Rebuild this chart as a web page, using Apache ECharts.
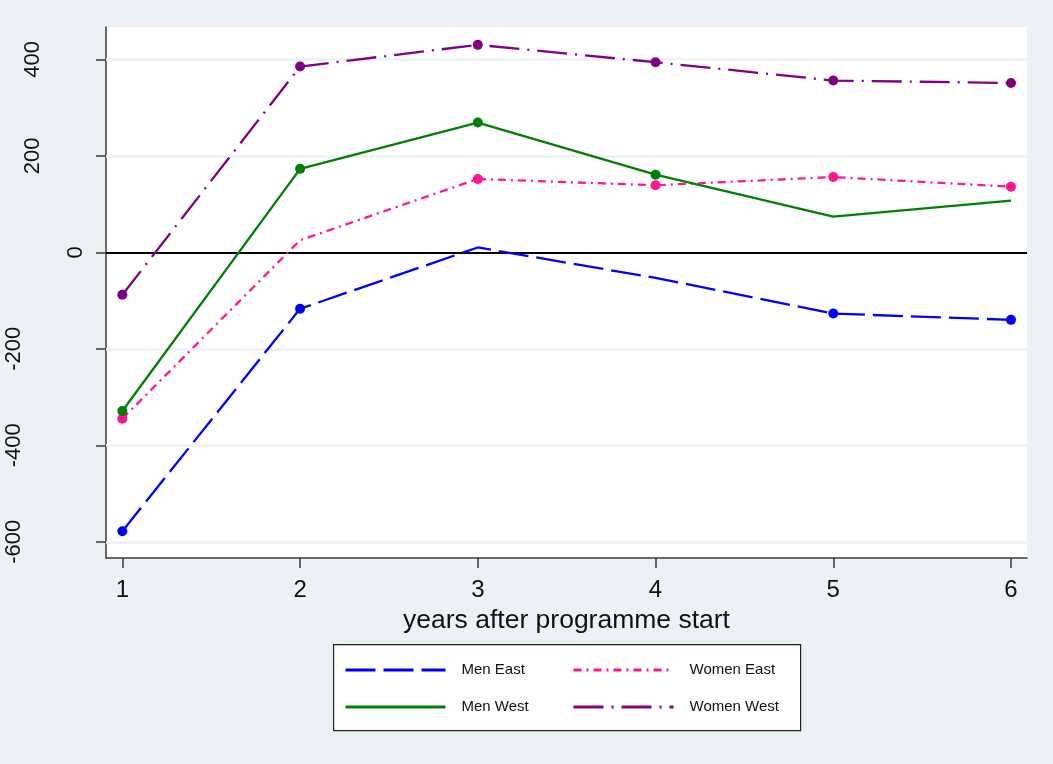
<!DOCTYPE html>
<html>
<head>
<meta charset="utf-8">
<script src="https://cdn.jsdelivr.net/npm/echarts@6/dist/echarts.min.js"></script>
<style>
  html, body { margin: 0; padding: 0; background: #EAF2F3; }
  #chart { width: 1053px; height: 764px; }
</style>
</head>
<body>
<div id="chart"></div>
<script>
// ---- data ----
const years = [1, 2, 3, 4, 5, 6];
const yTicks = [-600, -400, -200, 0, 200, 400];
const gridValues = [-600, -400, -200, 200, 400];
const zeroLine = [0];
const xAxisTitle = 'years after programme start';

const menEast = [-578, -117, 10, -53, -127, -140];
const menEastMarks = [1, 1, 0, 0, 1, 1];
const menWest = [-329, 173, 269, 161, 74, 107];
const menWestMarks = [1, 1, 1, 1, 0, 0];
const womenEast = [-345, 25, 152, 139, 156, 136];
const womenEastMarks = [1, 0, 1, 1, 1, 1];
const womenWest = [-88, 385, 430, 394, 356, 351];
const womenWestMarks = [1, 1, 1, 1, 1, 1];

// ---- chart ----
const chart = echarts.init(document.getElementById('chart'), null, { renderer: 'canvas' });
const FONT = 'Liberation Sans, Arial, sans-serif';
const AXIS_COLOR = '#3a3a3a';

function buildData(vals, marks) {
  return years.map((x, i) => ({
    value: [x, vals[i]],
    symbol: marks[i] ? 'circle' : 'none'
  }));
}

function lineSeries(name, vals, marks, color, type) {
  return {
    name: name,
    type: 'line',
    data: buildData(vals, marks),
    symbol: 'none',
    symbolSize: 10,
    showSymbol: true,
    itemStyle: { color: color },
    lineStyle: { color: color, width: 2.3, type: type },
    z: 3,
    animation: false
  };
}

const yMin = -633.6, yMax = 467;
function yAxisCfg(labels, margin, showLine) {
  return {
    type: 'value',
    min: yMin, max: yMax,
    position: 'left',
    axisLine: { show: showLine, onZero: false, lineStyle: { color: AXIS_COLOR, width: 1.5 } },
    axisTick: { show: showLine, length: 10, customValues: yTicks, lineStyle: { color: AXIS_COLOR, width: 1.5 } },
    splitLine: { show: false },
    axisLabel: {
      show: labels.length > 0,
      customValues: labels,
      rotate: 90,
      margin: margin,
      fontSize: 22,
      lineHeight: 22,
      fontFamily: FONT,
      color: '#111'
    }
  };
}

function legendCfg(name, left, top) {
  return {
    data: [name],
    left: left, top: top,
    padding: 0,
    itemWidth: 100, itemHeight: 20,
    selectedMode: false,
    itemStyle: { opacity: 0 },
    lineStyle: { width: 3 },
    textStyle: { fontSize: 15, fontFamily: FONT, color: '#111', padding: [0, 0, 0, 11], lineHeight: 20 }
  };
}

const option = {
  backgroundColor: '#EAF2F3',
  animation: false,
  grid: {
    left: 106, right: 26, top: 27, bottom: 206,
    show: true, backgroundColor: '#ffffff', borderWidth: 0
  },
  xAxis: {
    type: 'value',
    min: 0.908, max: 6.09,
    name: xAxisTitle,
    nameLocation: 'middle',
    nameGap: 40,
    nameTextStyle: { fontSize: 26.5, fontFamily: FONT, color: '#111' },
    axisLine: { onZero: false, lineStyle: { color: AXIS_COLOR, width: 1.5 } },
    axisTick: { length: 10, customValues: years, lineStyle: { color: AXIS_COLOR, width: 1.5 } },
    splitLine: { show: false },
    axisLabel: { customValues: years, margin: 20, fontSize: 24, fontFamily: FONT, color: '#111' }
  },
  yAxis: [
    yAxisCfg([0], 19, true),
    yAxisCfg([200, 400], 62, false),
    yAxisCfg([-200, -400, -600], 81, false)
  ],
  legend: [
    legendCfg('Men East', 344, 660),
    legendCfg('Women East', 572, 660),
    legendCfg('Men West', 344, 697),
    legendCfg('Women West', 572, 697)
  ],
  graphic: [{
    type: 'rect',
    left: 333, top: 644,
    shape: { width: 467, height: 86 },
    style: { fill: '#ffffff', stroke: '#222', lineWidth: 1.2 },
    z: -1
  }],
  series: [
    {
      name: 'grid',
      type: 'line',
      data: [],
      silent: true,
      markLine: {
        silent: true,
        symbol: 'none',
        z: 1,
        label: { show: false },
        lineStyle: { color: '#EAF2F3', width: 2.5, type: 'solid' },
        data: gridValues.map(v => ({ yAxis: v }))
      }
    },
    {
      name: 'zero',
      type: 'line',
      data: [],
      silent: true,
      markLine: {
        silent: true,
        symbol: 'none',
        z: 2,
        label: { show: false },
        lineStyle: { color: '#000', width: 2, type: 'solid' },
        data: zeroLine.map(v => ({ yAxis: v }))
      }
    },
    lineSeries('Men East', menEast, menEastMarks, '#0000FF', [30, 8]),
    lineSeries('Women East', womenEast, womenEastMarks, '#FF1493', [8, 5, 2, 5]),
    lineSeries('Men West', menWest, menWestMarks, '#008000', 'solid'),
    lineSeries('Women West', womenWest, womenWestMarks, '#800080', [30, 8, 2, 8])
  ]
};
chart.setOption(option);
</script>
</body>
</html>
